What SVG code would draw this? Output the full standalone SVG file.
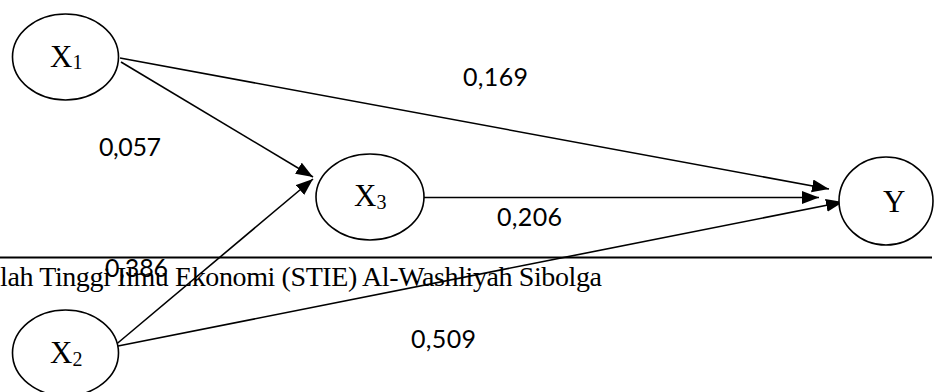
<svg xmlns="http://www.w3.org/2000/svg" width="935" height="392" viewBox="0 0 935 392">
<style>
.node{fill:#fff;stroke:#000;stroke-width:1.6}
.lbl{font-family:"Liberation Serif","Times New Roman",serif;font-size:31px;fill:#000}
.sub{font-size:20px}
.num{font-family:Lato,"Open Sans",sans-serif;font-size:25px;fill:#000}
.edge{stroke:#000;stroke-width:1.6;fill:none;marker-end:url(#ah)}
.foot{font-family:"Liberation Serif","Times New Roman",serif;font-size:28px;fill:#000}
</style>
<defs>
<marker id="ah" markerUnits="userSpaceOnUse" markerWidth="18" markerHeight="14" refX="17" refY="6.5" orient="auto">
<path d="M0,0 L17,6.5 L0,13 Z" fill="#000"/>
</marker>
</defs>
<rect width="935" height="392" fill="#fff"/>
<line x1="0" y1="257.5" x2="932" y2="257.5" stroke="#000" stroke-width="2"/>
<text class="foot" x="0" y="286" textLength="602" lengthAdjust="spacing">lah Tinggi Ilmu Ekonomi (STIE) Al-Washliyah Sibolga</text>
<g id="connectors">
<line class="edge" x1="120" y1="58" x2="829" y2="189"/>
<line class="edge" x1="121" y1="62" x2="313" y2="177"/>
<line class="edge" x1="113" y1="347" x2="313" y2="179"/>
<line class="edge" x1="424" y1="197.5" x2="819" y2="197.5"/>
<line class="edge" x1="113" y1="347" x2="843" y2="202"/>
</g>
<g id="X1">
<ellipse class="node" cx="65.5" cy="57" rx="53" ry="43"/>
<text class="lbl" x="50" y="66.7">X<tspan class="sub" dy="2.6">1</tspan></text>
</g>
<g id="X3">
<ellipse class="node" cx="370" cy="197" rx="54" ry="43"/>
<text class="lbl" x="354" y="206">X<tspan class="sub" dy="3">3</tspan></text>
</g>
<g id="Y">
<ellipse class="node" cx="886" cy="201" rx="47" ry="44"/>
<text class="lbl" x="883" y="211.5">Y</text>
</g>
<g id="X2">
<ellipse class="node" cx="65.5" cy="353" rx="53" ry="43"/>
<text class="lbl" x="50" y="363">X<tspan class="sub" dy="3">2</tspan></text>
</g>
<g id="labels">
<text class="num" x="463" y="85.5" textLength="65">0,169</text>
<text class="num" x="99" y="155.5" textLength="62">0,057</text>
<text class="num" x="497" y="226" textLength="65">0,206</text>
<text class="num" x="105" y="277" textLength="63">0,386</text>
<text class="num" x="411" y="348" textLength="65">0,509</text>
</g>
</svg>
